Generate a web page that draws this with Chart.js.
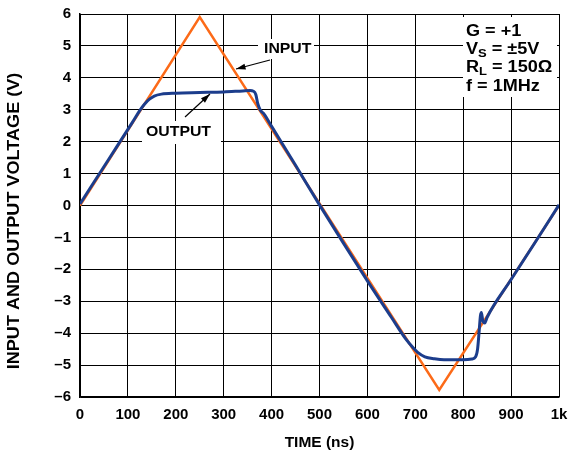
<!DOCTYPE html>
<html>
<head>
<meta charset="utf-8">
<script src="https://cdn.jsdelivr.net/npm/chart.js@4/dist/chart.umd.min.js"></script>
<style>
  html, body { margin: 0; padding: 0; background: #fff; }
  #wrap { width: 569px; height: 456px; position: relative; }
</style>
</head>
<body>
<div id="wrap"><canvas id="c"></canvas></div>
<script>
// Input vs output voltage, G = +1, 1MHz triangle

const inputTimes = [0, 250, 750, 1000];
const inputVolts = [0, 5.9, -5.78, 0];

const outputTimes = [0, 60, 110, 125, 135, 145, 155, 170, 200, 250, 300, 340, 355, 362, 367, 371, 376, 385, 400, 450, 500, 550, 600, 650, 680, 695, 705, 720, 740, 760, 800, 818, 826, 830, 833, 836, 838, 841, 845, 850, 900, 950, 1000];
const outputVolts = [0.05, 1.45, 2.62, 2.98, 3.18, 3.33, 3.43, 3.49, 3.52, 3.54, 3.56, 3.59, 3.6, 3.58, 3.48, 3.2, 3.0, 2.85, 2.48, 1.26, 0.02, -1.18, -2.36, -3.5, -4.18, -4.45, -4.6, -4.74, -4.8, -4.83, -4.83, -4.81, -4.74, -4.5, -4.0, -3.45, -3.35, -3.62, -3.68, -3.5, -2.32, -1.16, 0.02];

const xTicks = [0, 100, 200, 300, 400, 500, 600, 700, 800, 900, 1000];
const yTicks = [-6, -5, -4, -3, -2, -1, 0, 1, 2, 3, 4, 5, 6];

const FONT = "'Liberation Sans', Arial, sans-serif";
const ORANGE = "#fc6a18";
const NAVY = "#1c3d8c";
const STRETCH = 1.13; // the original lettering is a little wider than Arial

function pts(xs, ys) {
  return xs.map((x, i) => ({ x, y: ys[i] }));
}

// text boxes, arrows and the y axis title drawn on top of the grid
const annotations = {
  id: "annotations",
  afterDatasetsDraw(chart) {
    const ctx = chart.ctx;
    ctx.save();

    function whiteBox(x, y, w, h) {
      ctx.fillStyle = "#fff";
      ctx.fillRect(x, y, w, h);
    }
    function arrow(x1, y1, x2, y2) {
      ctx.strokeStyle = "#000";
      ctx.fillStyle = "#000";
      ctx.lineWidth = 1.2;
      ctx.beginPath();
      ctx.moveTo(x1, y1);
      ctx.lineTo(x2, y2);
      ctx.stroke();
      const a = Math.atan2(y2 - y1, x2 - x1);
      ctx.beginPath();
      ctx.moveTo(x2, y2);
      ctx.lineTo(x2 - 10 * Math.cos(a - 0.3), y2 - 10 * Math.sin(a - 0.3));
      ctx.lineTo(x2 - 10 * Math.cos(a + 0.3), y2 - 10 * Math.sin(a + 0.3));
      ctx.closePath();
      ctx.fill();
    }
    // stretched text, left aligned at x
    function wide(text, x, y, size) {
      ctx.save();
      ctx.font = "bold " + size + "px " + FONT;
      ctx.translate(x, y);
      ctx.scale(STRETCH, 1);
      ctx.fillText(text, 0, 0);
      const w = ctx.measureText(text).width * STRETCH;
      ctx.restore();
      return w;
    }
    function sub(main, s, rest, x, y) {
      let w = wide(main, x, y, 16);
      w += wide(s, x + w, y + 4, 11.5);
      wide(rest, x + w, y, 16);
    }

    ctx.textBaseline = "middle";
    ctx.textAlign = "left";
    ctx.fillStyle = "#000";

    // INPUT label
    whiteBox(258, 39, 56, 20);
    ctx.fillStyle = "#000";
    wide("INPUT", 264, 49, 14);
    arrow(270, 60, 236, 69);

    // OUTPUT label
    whiteBox(142, 121, 79, 23);
    ctx.fillStyle = "#000";
    wide("OUTPUT", 146, 132, 14);
    arrow(185, 117, 210, 94);

    // conditions box
    whiteBox(463, 17, 94, 80);
    ctx.fillStyle = "#000";
    const lx = 466;
    wide("G = +1", lx, 32, 16);
    sub("V", "S", " = \u00b15V", lx, 50);
    sub("R", "L", " = 150\u03a9", lx, 68);
    wide("f = 1MHz", lx, 87, 16);

    // y axis title
    ctx.translate(15, 221);
    ctx.rotate(-Math.PI / 2);
    ctx.scale(STRETCH, 1);
    ctx.textAlign = "center";
    ctx.font = "bold 16px " + FONT;
    ctx.fillText("INPUT AND OUTPUT VOLTAGE (V)", 0, 0);

    ctx.restore();
  },
};

new Chart(document.getElementById("c"), {
  type: "line",
  data: {
    datasets: [
      {
        label: "OUTPUT",
        data: pts(outputTimes, outputVolts),
        borderColor: NAVY,
        borderWidth: 3,
        pointRadius: 0,
        cubicInterpolationMode: "monotone",
      },
      {
        label: "INPUT",
        data: pts(inputTimes, inputVolts),
        borderColor: ORANGE,
        borderWidth: 2.5,
        pointRadius: 0,
        tension: 0,
      },
    ],
  },
  options: {
    responsive: true,
    maintainAspectRatio: false,
    animation: false,
    layout: { padding: { left: 0, top: 14, right: 10, bottom: 0 } },
    plugins: { legend: { display: false }, tooltip: { enabled: false } },
    scales: {
      x: {
        type: "linear",
        min: 0,
        max: 1000,
        afterBuildTicks: (s) => { s.ticks = xTicks.map((v) => ({ value: v })); },
        afterFit: (s) => { s.height = 59; s.paddingRight = 0; s.paddingLeft = 0; },
        grid: { color: "#000", lineWidth: 1, drawTicks: false },
        border: { color: "#000", width: 1.5 },
        ticks: {
          color: "#000",
          padding: 9,
          maxRotation: 0,
          font: { family: FONT, size: 15, weight: "bold" },
          callback: (v) => (v === 1000 ? "1k" : String(v)),
        },
        title: {
          display: true,
          text: "TIME (ns)",
          color: "#000",
          padding: { top: 11 },
          font: { family: FONT, size: 15.5, weight: "bold" },
        },
      },
      y: {
        min: -6,
        max: 6,
        afterBuildTicks: (s) => { s.ticks = yTicks.map((v) => ({ value: v })); },
        afterFit: (s) => { s.width = 80; s.paddingTop = 0; s.paddingBottom = 0; },
        grid: { color: "#000", lineWidth: 1, drawTicks: false },
        border: { color: "#000", width: 1.5 },
        ticks: {
          color: "#000",
          padding: 9,
          font: { family: FONT, size: 15, weight: "bold" },
          callback: (v) => (v < 0 ? "\u2013" + Math.abs(v) : String(v)),
        },
      },
    },
  },
  plugins: [annotations],
});
</script>
</body>
</html>
